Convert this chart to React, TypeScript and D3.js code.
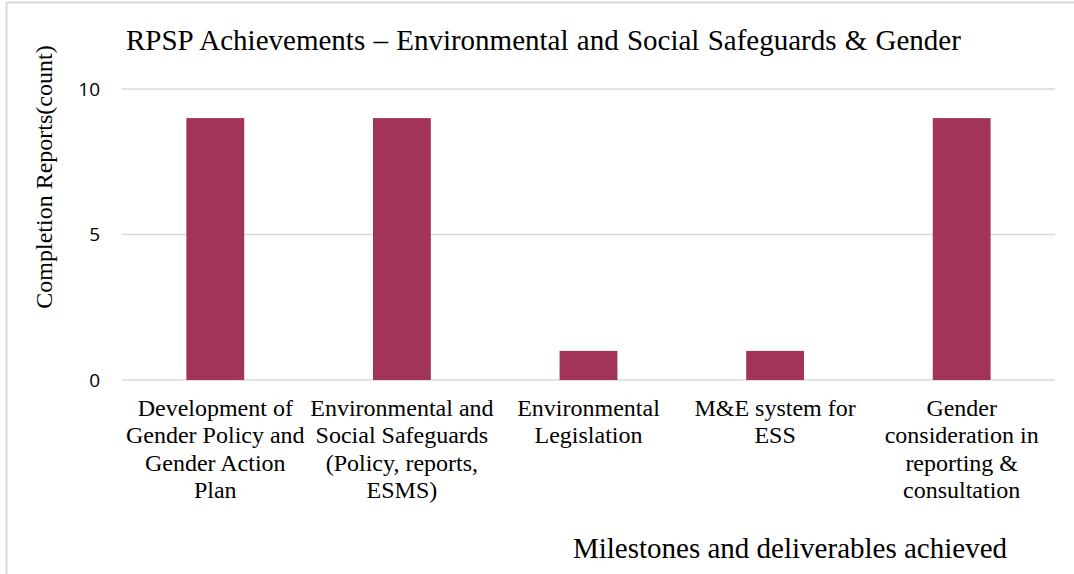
import React from "react";
import * as d3 from "d3";

// Milestone categories, each split into display lines
const categories = [
  "Development of Gender Policy and Gender Action Plan",
  "Environmental and Social Safeguards (Policy, reports, ESMS)",
  "Environmental Legislation",
  "M&E system for ESS",
  "Gender consideration in reporting & consultation",
];
const categoryLines = [
  ["Development of", "Gender Policy and", "Gender Action", "Plan"],
  ["Environmental and", "Social Safeguards", "(Policy, reports,", "ESMS)"],
  ["Environmental", "Legislation"],
  ["M&E system for", "ESS"],
  ["Gender", "consideration in", "reporting &", "consultation"],
];
const completionCounts = [9, 9, 1, 1, 9];
const yTicks = [0, 5, 10];

const W = 1074;
const H = 574;
const plot = { left: 122, right: 1055, top: 89, bottom: 380 };
const barColor = "#A13458";
const gridColor = "#D9D9D9";
const serif = "'Liberation Serif', 'Times New Roman', serif";
const sans = "'Open Sans', 'Liberation Sans', sans-serif";

export default function App() {
  const x = d3
    .scaleBand<string>()
    .domain(categories)
    .range([plot.left, plot.right])
    .paddingInner(0.69)
    .paddingOuter(0.345);
  const y = d3.scaleLinear().domain([0, 10]).range([plot.bottom, plot.top]);

  return (
    <svg
      width={W}
      height={H}
      style={{ position: "absolute", left: 0, top: 0, background: "#fff" }}
    >
      {/* chart frame */}
      <line x1={6.5} y1={2.5} x2={W} y2={2.5} stroke={gridColor} strokeWidth={2} />
      <line x1={6.5} y1={2.5} x2={6.5} y2={H} stroke={gridColor} strokeWidth={2} />

      <text x={126} y={50} fontFamily={serif} fontSize={29} wordSpacing={1} fill="#000">
        RPSP Achievements – Environmental and Social Safeguards &amp; Gender
      </text>

      {/* gridlines and y tick labels */}
      {yTicks.map((t) => (
        <g key={t}>
          <line
            x1={plot.left}
            x2={plot.right}
            y1={y(t)}
            y2={y(t)}
            stroke={gridColor}
            strokeWidth={t === 0 ? 1.5 : 1.3}
          />
          <text
            x={100}
            y={y(t)}
            dy="0.35em"
            textAnchor="end"
            fontFamily={sans}
            fontSize={19}
            fill="#000"
          >
            {t}
          </text>
        </g>
      ))}

      {/* bars */}
      {categories.map((c, i) => (
        <rect
          key={c}
          x={x(c)}
          y={y(completionCounts[i])}
          width={x.bandwidth()}
          height={y(0) - y(completionCounts[i])}
          fill={barColor}
        />
      ))}

      {/* category labels */}
      {categories.map((c, i) => (
        <text
          key={c}
          x={(x(c) ?? 0) + x.bandwidth() / 2}
          y={416}
          textAnchor="middle"
          fontFamily={serif}
          fontSize={24}
          fill="#000"
        >
          {categoryLines[i].map((line, j) => (
            <tspan key={j} x={(x(c) ?? 0) + x.bandwidth() / 2} dy={j === 0 ? 0 : 27.3}>
              {line}
            </tspan>
          ))}
        </text>
      ))}

      {/* axis titles */}
      <text
        transform={`translate(52,177) rotate(-90)`}
        textAnchor="middle"
        fontFamily={serif}
        fontSize={24}
        fill="#000"
      >
        Completion Reports(count)
      </text>
      <text
        x={790}
        y={558}
        textAnchor="middle"
        fontFamily={serif}
        fontSize={29}
        fill="#000"
      >
        Milestones and deliverables achieved
      </text>
    </svg>
  );
}
